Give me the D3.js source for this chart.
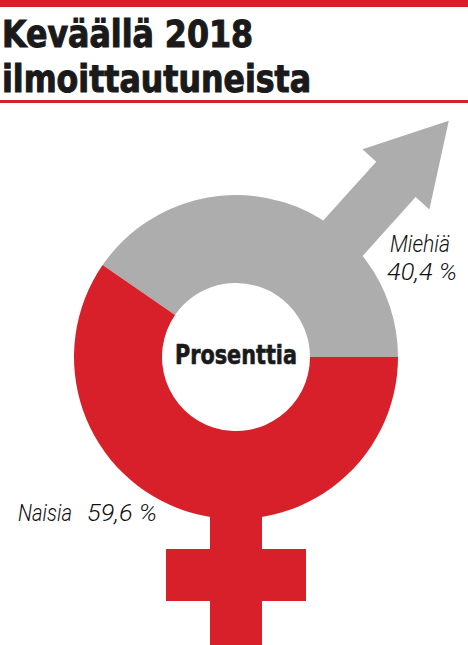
<!DOCTYPE html>
<html>
<head>
<meta charset="utf-8">
<script src="https://cdn.jsdelivr.net/npm/d3@7"></script>
<style>
  body { margin: 0; background: #fff; }
  svg { display: block; }
</style>
</head>
<body>
<script>
const categories = ['Miehiä', 'Naisia'];
const values = [40.4, 59.6];
const valueLabels = ['40,4 %', '59,6 %'];
const titleLines = ['Keväällä 2018', 'ilmoittautuneista'];
const centerLabel = 'Prosenttia';

const width = 468, height = 645;
const red = '#d8202a', gray = '#adadad';
const cx = 236, cy = 357;
const rOuter = 162, rInner = 74;
const condensed = '"DejaVu Sans Condensed", "Liberation Sans Narrow", sans-serif';

const svg = d3.select('body').append('svg')
    .attr('width', width)
    .attr('height', height);

// top band and rule
svg.append('rect').attr('x', 0).attr('y', 0).attr('width', width).attr('height', 7).attr('fill', red);
svg.append('rect').attr('x', 0).attr('y', 100).attr('width', width).attr('height', 3).attr('fill', red);

// title
const titleW = [251, 309];
svg.selectAll('text.title')
    .data(titleLines)
    .join('text')
    .attr('class', 'title')
    .attr('x', 2)
    .attr('y', (d, i) => 47 + i * 45)
    .attr('textLength', (d, i) => titleW[i])
    .attr('lengthAdjust', 'spacingAndGlyphs')
    .attr('font-family', condensed)
    .attr('font-weight', 'bold')
    .attr('font-size', 37)
    .attr('fill', '#1a1a1a')
    .attr('stroke', '#1a1a1a')
    .attr('stroke-width', 1)
    .text(d => d);

const g = svg.append('g').attr('transform', `translate(${cx},${cy})`);

// male arrow (behind the ring)
const ang = -48;
const arrow = [[120, -26.5], [239, -26.5], [239, -45], [318, 0], [239, 45], [239, 26.5], [120, 26.5]];
g.append('path')
    .attr('transform', `rotate(${ang})`)
    .attr('d', d3.line()(arrow) + 'Z')
    .attr('fill', gray);

// female cross
g.append('rect').attr('x', -26).attr('y', rOuter - 20).attr('width', 52).attr('height', height - cy - rOuter + 30).attr('fill', red);
g.append('rect').attr('x', -70).attr('y', 192).attr('width', 140).attr('height', 52).attr('fill', red);

// donut
const data = categories.map((c, i) => ({ name: c, value: values[i], label: valueLabels[i] }));
const total = d3.sum(values);
const start = Math.PI / 2 - 2 * Math.PI * values[0] / total;
const pie = d3.pie().sort(null).value(d => d.value).startAngle(start).endAngle(start + 2 * Math.PI);
const arc = d3.arc().innerRadius(rInner).outerRadius(rOuter);
const color = d3.scaleOrdinal().domain(categories).range([gray, red]);

g.selectAll('path.slice')
    .data(pie(data))
    .join('path')
    .attr('class', 'slice')
    .attr('d', arc)
    .attr('fill', d => color(d.data.name));

// center label
g.append('text')
    .attr('x', 0)
    .attr('y', 7)
    .attr('text-anchor', 'middle')
    .attr('textLength', 122)
    .attr('lengthAdjust', 'spacingAndGlyphs')
    .attr('font-family', condensed)
    .attr('font-weight', 'bold')
    .attr('font-size', 26)
    .attr('fill', '#1a1a1a')
    .attr('stroke', '#1a1a1a')
    .attr('stroke-width', 0.6)
    .text(centerLabel);

// value labels
const labelText = svg.append('g')
    .attr('font-family', 'Roboto, "Liberation Sans", sans-serif')
    .attr('font-style', 'italic')
    .attr('font-weight', 300)
    .attr('font-size', 23)
    .attr('fill', '#111');

const lab = (x, y, w, t) => labelText.append('text')
    .attr('x', x).attr('y', y)
    .attr('textLength', w).attr('lengthAdjust', 'spacingAndGlyphs')
    .text(t);

lab(390, 252, 60, data[0].name);
lab(387, 280, 70, data[0].label);
lab(18, 521, 54, data[1].name);
lab(87, 521, 70, data[1].label);
</script>
</body>
</html>
